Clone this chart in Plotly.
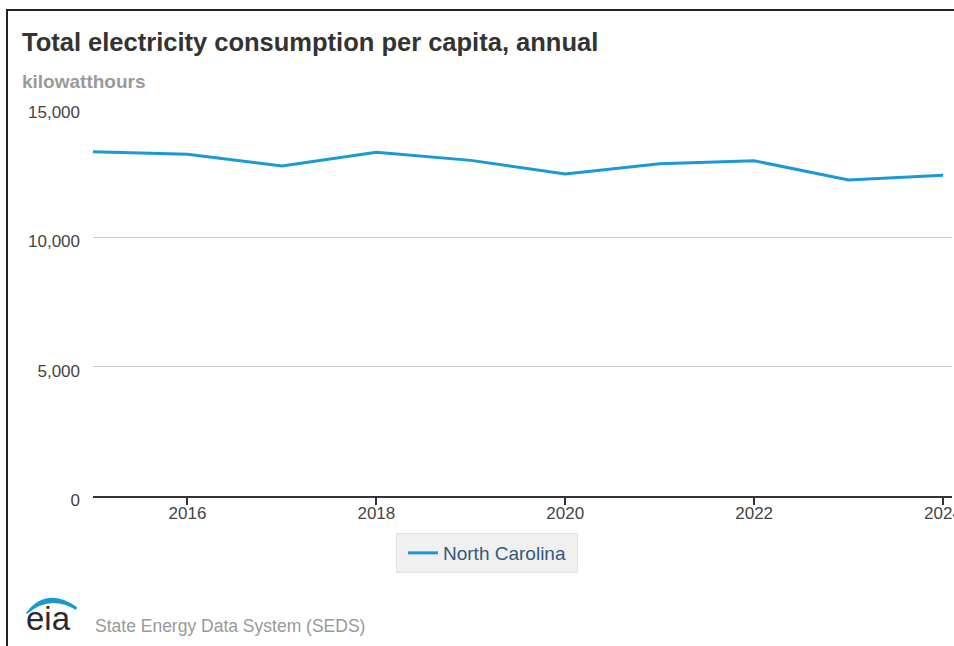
import plotly.graph_objects as go

# Annual electricity consumption per capita, North Carolina (kWh)
years = [2015, 2016, 2017, 2018, 2019, 2020, 2021, 2022, 2023, 2024]
kwh_per_capita = [13310, 13210, 12760, 13285, 12975, 12450, 12845, 12960, 12215, 12400]
series_name = "North Carolina"

y_ticks = [0, 5000, 10000, 15000]
x_ticks = [2016, 2018, 2020, 2022, 2024]

W, H = 954, 646
L, R, T, B = 93, 2, 108, 150
PW, PH = W - L - R, H - T - B


def px(x):
    return (x - L) / PW


def py(y):
    return (H - B - y) / PH


LINE_BLUE = "#1b98d5"
FONT = "Liberation Sans, Arial, sans-serif"

fig = go.Figure()
fig.add_trace(go.Scatter(
    x=years, y=kwh_per_capita, mode="lines", name=series_name,
    line=dict(color=LINE_BLUE, width=3),
))

fig.update_layout(
    width=W, height=H,
    margin=dict(l=L, r=R, t=T, b=B, pad=0, autoexpand=False),
    paper_bgcolor="white", plot_bgcolor="white",
    font=dict(family=FONT, color="#444", size=16),
    showlegend=True,
    legend=dict(
        orientation="h", x=px(487), xanchor="center", y=py(533), yanchor="top",
        bgcolor="#f0f0f0", bordercolor="#e2e2e2", borderwidth=1,
        font=dict(size=19, color="#34587c", family=FONT),
        itemwidth=30, indentation=6,
        entrywidth=129, entrywidthmode="pixels",
    ),
    xaxis=dict(
        range=[2015, 2024.095], tickvals=x_ticks, tickformat="d",
        showgrid=False, zeroline=False, automargin=False,
        showline=True, linecolor="#333", linewidth=1.5,
        ticks="outside", ticklen=7, tickcolor="#333", tickwidth=1.5,
        tickfont=dict(size=17, color="#444"),
        ticklabeloverflow="allow", ticklabelstandoff=-6,
    ),
    yaxis=dict(
        range=[0, 15000], tickvals=y_ticks, tickformat=",",
        showgrid=True, gridcolor="#cccccc", gridwidth=1,
        zeroline=False, showline=False, ticks="", automargin=False,
        ticklabelstandoff=12, ticklabelshift=4,
        tickfont=dict(size=17, color="#444"),
    ),
)

annotations = [
    dict(text="<b>Total electricity consumption per capita, annual</b>",
         x=px(20), y=py(42), xanchor="left", yanchor="middle",
         font=dict(size=25.5, color="#333", family=FONT)),
    dict(text="<b>kilowatthours</b>",
         x=px(20), y=py(81), xanchor="left", yanchor="middle",
         font=dict(size=19, color="#9a9a9a", family=FONT)),
    dict(text="State Energy Data System (SEDS)",
         x=px(93), y=py(626), xanchor="left", yanchor="middle",
         font=dict(size=17.5, color="#999", family=FONT)),
    dict(text="eia",
         x=px(24), y=py(618), xanchor="left", yanchor="middle",
         font=dict(size=33, color="#2b2b2b", family=FONT)),
]
for a in annotations:
    a.update(xref="paper", yref="paper", showarrow=False)
fig.update_layout(annotations=annotations)


def pt(x, y):
    return f"{px(x):.5f},{py(y):.5f}"


# logo swoosh above the lettering
swoosh = (f"M {pt(26, 613)} Q {pt(46, 586)} {pt(77, 607)} "
          f"L {pt(76, 610)} Q {pt(50, 594)} {pt(27, 614)} Z")

shapes = [
    # frame: only its top and left edges fall inside the page
    dict(type="rect", x0=px(7), x1=px(W + 30), y0=py(H + 30), y1=py(10),
         line=dict(color="#222", width=2), fillcolor="rgba(0,0,0,0)"),
    dict(type="path", path=swoosh, fillcolor=LINE_BLUE, line=dict(width=0)),
]
for s in shapes:
    s.update(xref="paper", yref="paper", layer="above")
fig.update_layout(shapes=shapes)

fig.write_html("out.html", config={"displayModeBar": False})
